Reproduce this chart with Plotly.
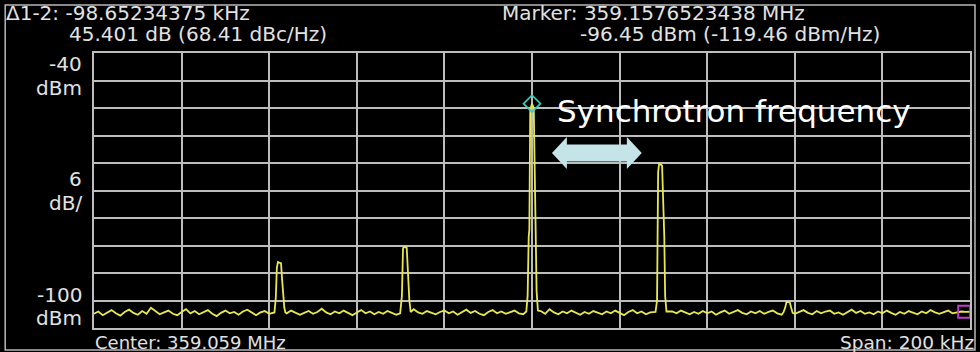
import plotly.graph_objects as go

# Sweep settings
CENTER_MHZ = 359.059
SPAN_KHZ = 200.0
REF_LEVEL_DBM = -40.0
DB_PER_DIV = 6.0

# Noise floor, 1 kHz steps from -100 kHz to +100 kHz around the center
floor_offset_khz = list(range(-100, 101))
floor_dbm = [
    -96.9, -96.4, -97.2, -96.6, -96.1, -96.8, -97.3, -96.5, -96.0, -96.7, -97.1, -96.3, -96.9, -95.6, -96.4, -97.0, -96.6, -96.2, -96.9, -97.2,
    -96.5, -95.9, -96.8, -96.3, -97.0, -96.6, -96.1, -96.9, -97.4, -96.7, -96.2, -96.8, -96.5, -97.1, -96.4, -96.0, -96.7, -97.2, -96.6, -96.3,
    -96.9, -96.5, -97.0, -96.4, -96.8, -96.2, -96.6, -97.1, -96.7, -96.3, -96.9, -96.5, -95.8, -96.6, -97.0, -96.4, -96.8, -96.2, -96.7, -97.2,
    -96.6, -96.1, -96.8, -96.4, -97.0, -96.5, -96.9, -96.3, -96.7, -97.1, -96.2, -96.8, -96.4, -95.9, -96.6, -96.9, -96.3, -96.7, -97.0, -96.5,
    -96.2, -96.8, -96.4, -97.1, -96.6, -96.0, -96.7, -96.3, -96.9, -97.2, -96.5, -96.1, -96.8, -96.4, -96.9, -96.6, -96.2, -96.8, -97.0, -96.5,
    -96.5, -96.7, -96.3, -96.9, -95.9, -96.6, -97.0, -96.4, -96.8, -96.2, -96.7, -97.1, -96.5, -96.9, -96.3, -96.6, -97.0, -96.4, -96.8, -96.2,
    -96.7, -97.2, -96.5, -96.1, -96.8, -96.4, -97.0, -96.6, -96.9, -96.3, -96.7, -97.1, -96.4, -96.8, -96.2, -96.6, -97.0, -96.5, -96.9, -96.3,
    -96.8, -96.4, -97.1, -96.6, -96.2, -96.9, -96.5, -96.1, -96.7, -97.0, -96.4, -96.8, -96.3, -96.9, -96.5, -96.2, -96.8, -97.1, -96.6, -96.4,
    -96.9, -96.5, -96.1, -96.7, -97.0, -96.3, -96.8, -96.4, -96.2, -96.9, -96.6, -97.1, -96.5, -96.0, -96.7, -96.3, -96.9, -96.6, -97.0, -96.4,
    -96.8, -96.2, -96.7, -97.1, -96.5, -96.9, -96.3, -96.6, -97.0, -96.4, -96.8, -96.1, -96.6, -96.9, -96.5, -96.2, -96.8, -96.6, -96.4, -96.5,
    -96.45,
]

# Carrier and synchrotron sidebands: center offset (kHz), sample offsets
# relative to that center (kHz) and levels (dBm)
peak_center_khz = [-57.6, -28.9, 0.0, 29.4, 58.5]
peak_rel_khz = [
    [-1.2, -0.9, -0.65, -0.4, 0.3, 0.55, 0.8, 1.05, 1.3],
    [-1.2, -0.8, -0.55, -0.3, 0.3, 0.6, 0.9, 1.2],
    [-1.3, -1.0, -0.75, -0.6, -0.4, 0.0, 0.4, 0.6, 0.8, 1.05, 1.35],
    [-1.2, -0.85, -0.6, -0.35, 0.3, 0.55, 0.8, 1.0, 1.3],
    [-1.1, -0.7, -0.4, 0.35, 0.65, 1.0],
]
peak_dbm = [
    [-96.6, -93.5, -86.8, -85.6, -85.9, -89.5, -92.8, -95.6, -96.6],
    [-96.8, -93.0, -82.6, -82.3, -82.5, -88.5, -94.0, -96.5],
    [-96.4, -93.0, -80.0, -78.5, -52.3, -51.049, -52.0, -66.0, -72.0, -92.0, -96.2],
    [-96.5, -94.0, -66.0, -64.0, -64.6, -71.5, -80.0, -93.0, -96.4],
    [-96.6, -95.6, -94.3, -94.4, -95.5, -96.7],
]

# Markers
marker2_offset_khz = 98.65234375
marker2_dbm = -96.45
delta_khz = -98.65234375
delta_db = 45.401
marker1_offset_khz = marker2_offset_khz + delta_khz
marker1_dbm = marker2_dbm + delta_db

# Text
header_left = ["\u03941-2: -98.65234375 kHz", "45.401 dB (68.41 dBc/Hz)"]
header_right = ["Marker: 359.1576523438 MHz", "-96.45 dBm (-119.46 dBm/Hz)"]
scale_labels = [("-40", "dBm"), ("6", "dB/"), ("-100", "dBm")]
footer_left = "Center: 359.059 MHz"
footer_right = "Span: 200 kHz"
callout = "Synchrotron frequency"

# Merge the floor samples with the peak samples into one sweep
points = []
for x, y in zip(floor_offset_khz, floor_dbm):
    near_peak = any(c + rel[0] - 0.3 <= x <= c + rel[-1] + 0.3
                    for c, rel in zip(peak_center_khz, peak_rel_khz))
    if not near_peak:
        points.append((x, y))
for c, rel, lv in zip(peak_center_khz, peak_rel_khz, peak_dbm):
    points.extend((c + r, l) for r, l in zip(rel, lv))
points.sort()
trace_x = [p[0] for p in points]
trace_y = [p[1] for p in points]

W, H = 980, 352
PL, PR, PT, PB = 94, 972, 53, 328  # plot area in pixels


def px_x(px):
    return (px - PL) / (PR - PL)


def px_y(py):
    return (PB - py) / (PB - PT)


TEXT = "#e2e2e2"
GRID = "#bdbdbd"
FONT = "DejaVu Sans"

fig = go.Figure()
fig.add_trace(go.Scatter(
    x=trace_x, y=trace_y, mode="lines",
    line=dict(color="#e8e84e", width=1.8), hoverinfo="skip",
))
fig.add_trace(go.Scatter(
    x=[marker1_offset_khz], y=[marker1_dbm], mode="markers",
    marker=dict(symbol="diamond-open", size=13, color="#3cc8b4", line=dict(width=1.8)),
))
fig.add_trace(go.Scatter(
    x=[marker2_offset_khz], y=[marker2_dbm], mode="markers",
    marker=dict(symbol="square-open", size=12, color="#c23ccc", line=dict(width=1.8)),
))

half = SPAN_KHZ / 2
fig.update_xaxes(
    range=[-half, half], tick0=-half, dtick=SPAN_KHZ / 10,
    showticklabels=False, ticks="", showgrid=True, gridcolor=GRID, gridwidth=1.5,
    zeroline=False, showline=True, mirror=True, linecolor=GRID, linewidth=1.5,
)
bottom = REF_LEVEL_DBM - 10 * DB_PER_DIV
fig.update_yaxes(
    range=[bottom, REF_LEVEL_DBM], tick0=bottom, dtick=DB_PER_DIV,
    showticklabels=False, ticks="", showgrid=True, gridcolor=GRID, gridwidth=1.5,
    zeroline=False, showline=True, mirror=True, linecolor=GRID, linewidth=1.5,
)

ann = []


def label(text, x, y, xanchor, size=20, color=TEXT, xref="paper", yref="paper"):
    ann.append(dict(text=text, x=x, y=y, xref=xref, yref=yref, xanchor=xanchor,
                    yanchor="middle", showarrow=False,
                    font=dict(family=FONT, size=size, color=color)))


label(header_left[0], px_x(4), px_y(13), "left")
label(header_left[1], px_x(67), px_y(34), "left")
label(header_right[0], px_x(501), px_y(13), "left")
label(header_right[1], px_x(579), px_y(34), "left")

scale_rows = [(64, 88), (179, 203), (295, 318)]
for (top, unit), (y1, y2) in zip(scale_labels, scale_rows):
    label(top, px_x(84), px_y(y1), "right")
    label(unit, px_x(84), px_y(y2), "right")

label(footer_left, px_x(93), px_y(342), "left", size=18)
label(footer_right, px_x(978), px_y(342), "right", size=18.5)

# Callout for the sideband spacing
label(callout, 5.2, -52.6, "left", size=31, color="#ffffff", xref="x", yref="y")

ax0, ax1, head = 4.56, 25.06, 3.4
yc, body_h, head_h = -61.82, 1.85, 3.49
arrow_path = (
    f"M {ax0},{yc} L {ax0 + head},{yc + head_h} L {ax0 + head},{yc + body_h} "
    f"L {ax1 - head},{yc + body_h} L {ax1 - head},{yc + head_h} L {ax1},{yc} "
    f"L {ax1 - head},{yc - head_h} L {ax1 - head},{yc - body_h} "
    f"L {ax0 + head},{yc - body_h} L {ax0 + head},{yc - head_h} Z"
)

shapes = [
    dict(type="path", path=arrow_path, xref="x", yref="y",
         fillcolor="#c4e4e8", line=dict(width=0), layer="above"),
    dict(type="rect", xref="paper", yref="paper",
         x0=px_x(5), x1=px_x(977), y0=px_y(350), y1=px_y(5),
         line=dict(color="#b8b8b8", width=1.5), fillcolor="rgba(0,0,0,0)"),
]

fig.update_layout(
    width=W, height=H,
    margin=dict(l=PL, r=W - PR, t=PT, b=H - PB, pad=0),
    paper_bgcolor="#000000", plot_bgcolor="#000000",
    showlegend=False, annotations=ann, shapes=shapes,
    font=dict(family=FONT, color=TEXT),
)

fig.write_html("out.html", config={"displayModeBar": False})
